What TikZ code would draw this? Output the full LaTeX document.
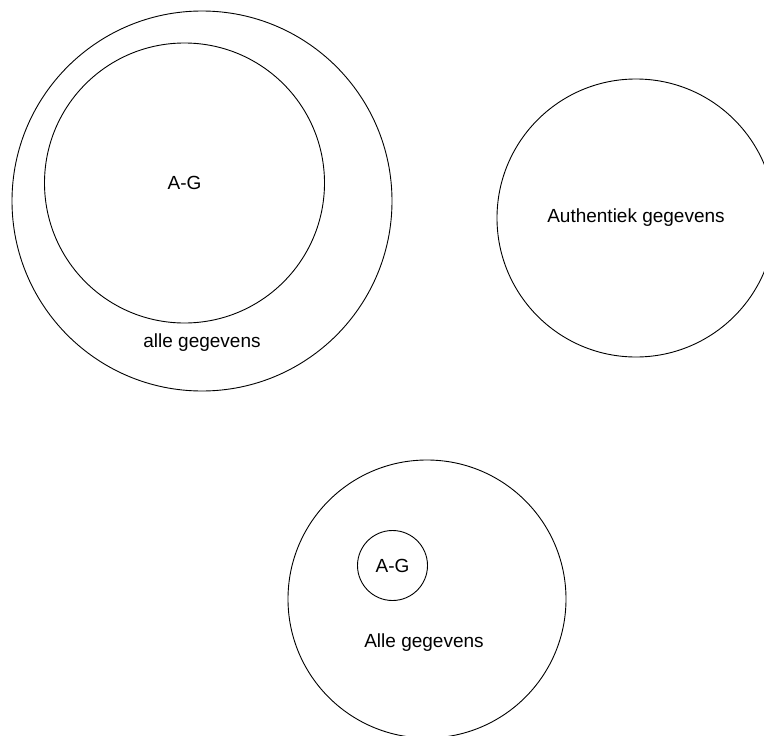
\documentclass[tikz,border=0pt]{standalone}
\usepackage{fontspec}
\setmainfont{Liberation Sans}
\begin{document}
\begin{tikzpicture}[x=1pt,y=-1pt,
  ring/.style={draw=black,line width=0.9pt,circle,inner sep=0pt,font=\fontsize{19}{21}\selectfont},
  lbl/.style={inner sep=0pt,font=\fontsize{19}{21}\selectfont}]
\fill[white] (0,0) rectangle (764,736);
\clip (0,0) rectangle (764,736);
\node[ring,minimum size=380pt] (outer) at (202,201) {};
\node[ring,minimum size=280pt] (inner) at (184.5,183) {A-G};
\node[lbl] (alle) at (202,343) {alle gegevens};
\node[ring,minimum size=278pt] (auth) at (636,218) {Authentiek gegevens};
\node[ring,minimum size=278pt] (bottom) at (427,599) {};
\node[ring,minimum size=70pt] (small) at (392.5,565.5) {A-G};
\node[lbl] (Alle) at (424,643) {Alle gegevens};
\end{tikzpicture}
\end{document}
